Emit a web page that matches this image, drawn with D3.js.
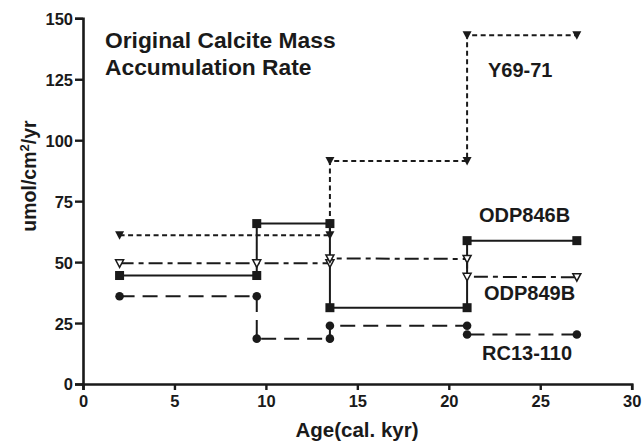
<!DOCTYPE html>
<html>
<head>
<meta charset="utf-8">
<script src="https://cdn.jsdelivr.net/npm/d3@7"></script>
<style>
  html, body { margin: 0; padding: 0; background: #fff; }
  svg text { font-family: "Liberation Sans", Arial, Helvetica, sans-serif; font-weight: bold; fill: #1a1a1a; }
</style>
</head>
<body>
<svg id="chart" width="644" height="446"></svg>
<script>
// ---- data ----
const xTicks = [0, 5, 10, 15, 20, 25, 30];
const yTicks = [0, 25, 50, 75, 100, 125, 150];
const titleLines = ["Original Calcite Mass", "Accumulation Rate"];
const xLabel = "Age(cal. kyr)";

const y6971Age = [2, 13.5, 13.5, 21, 21, 27];
const y6971Val = [61, 61, 91.5, 91.5, 143, 143];

const odp846Age = [2, 9.5, 9.5, 13.5, 13.5, 21, 21, 27];
const odp846Val = [44.5, 44.5, 65.8, 65.8, 31.3, 31.3, 58.8, 58.8];

const odp849Age = [2, 9.5, 13.5, 13.5, 21, 21, 27];
const odp849Val = [49.5, 49.5, 49.5, 51.5, 51.3, 44, 43.8];

const rc13Age = [2, 9.5, 9.5, 13.5, 13.5, 21, 21, 27];
const rc13Val = [36, 36, 18.6, 18.6, 23.9, 23.9, 20.3, 20.3];

const seriesNames = ["Y69-71", "ODP846B", "ODP849B", "RC13-110"];

// ---- layout ----
const svg = d3.select("#chart");
const x = d3.scaleLinear().domain([0, 30]).range([83, 631.7]);
const y = d3.scaleLinear().domain([0, 150]).range([384, 18.3]);
const ink = "#1a1a1a";

// axes
const xAxis = d3.axisBottom(x).tickValues(xTicks).tickSize(6).tickPadding(5);
const yAxis = d3.axisLeft(y).tickValues(yTicks).tickSize(8).tickPadding(2);

const gx = svg.append("g").attr("transform", `translate(0,${y(0)})`).call(xAxis);
const gy = svg.append("g").attr("transform", `translate(${x(0)},0)`).call(yAxis);
[gx, gy].forEach(g => {
  g.select(".domain").attr("stroke", ink).attr("stroke-width", 2.6);
  g.selectAll(".tick line").attr("stroke", ink).attr("stroke-width", 2.4);
  g.selectAll(".tick text").style("font-size", "16.5px").style("font-family", "'Liberation Sans', Arial, sans-serif").style("font-weight", "bold").attr("fill", ink);
});
gy.selectAll(".tick text").attr("dy", "0.36em");

// axis labels
svg.append("text")
  .attr("transform", `translate(36,176) rotate(-90)`)
  .attr("text-anchor", "middle")
  .style("font-size", "19.5px")
  .html('umol/cm<tspan dy="-7" style="font-size:13px">2</tspan><tspan dy="7">/yr</tspan>');

svg.append("text")
  .attr("x", 357).attr("y", 437)
  .attr("text-anchor", "middle")
  .style("font-size", "20.5px")
  .text(xLabel);

// title
svg.append("text").attr("x", 105).attr("y", 48).style("font-size", "22.8px").text(titleLines[0]);
svg.append("text").attr("x", 105).attr("y", 75).style("font-size", "22.8px").text(titleLines[1]);

// series
const line = d3.line().x(d => x(d[0])).y(d => y(d[1]));
const zip = (a, b) => a.map((v, i) => [v, b[i]]);

const series = [
  { name: seriesNames[0], pts: zip(y6971Age, y6971Val), dash: "5,3.5", marker: "triFilled" },
  { name: seriesNames[1], pts: zip(odp846Age, odp846Val), dash: null, marker: "square" },
  { name: seriesNames[2], pts: zip(odp849Age, odp849Val), dash: "14,5,5,5", marker: "triOpen" },
  { name: seriesNames[3], pts: zip(rc13Age, rc13Val), dash: "15,8", marker: "circle" }
];

series.forEach(s => {
  svg.append("path")
    .attr("d", line(s.pts))
    .attr("fill", "none")
    .attr("stroke", ink)
    .attr("stroke-width", 2)
    .attr("stroke-dasharray", s.dash);
});

const triPath = "M-4.5,-4 L4.5,-4 L0,4.5 Z";
series.forEach(s => {
  const g = svg.append("g");
  s.pts.forEach(p => {
    const cx = x(p[0]), cy = y(p[1]);
    if (s.marker === "square") {
      g.append("rect").attr("x", cx - 4.5).attr("y", cy - 4.5).attr("width", 9).attr("height", 9).attr("fill", ink);
    } else if (s.marker === "circle") {
      g.append("circle").attr("cx", cx).attr("cy", cy).attr("r", 4.3).attr("fill", ink);
    } else if (s.marker === "triFilled") {
      g.append("path").attr("d", triPath).attr("transform", `translate(${cx},${cy})`).attr("fill", ink);
    } else {
      g.append("path").attr("d", "M-4,-3.5 L4,-3.5 L0,4 Z").attr("transform", `translate(${cx},${cy})`)
        .attr("fill", "#fff").attr("stroke", ink).attr("stroke-width", 1.5);
    }
  });
});

// series labels
const labelPos = [[488, 77], [479, 222], [484, 300], [482, 360]];
seriesNames.forEach((n, i) => {
  svg.append("text").attr("x", labelPos[i][0]).attr("y", labelPos[i][1]).style("font-size", "20px").text(n);
});
</script>
</body>
</html>
